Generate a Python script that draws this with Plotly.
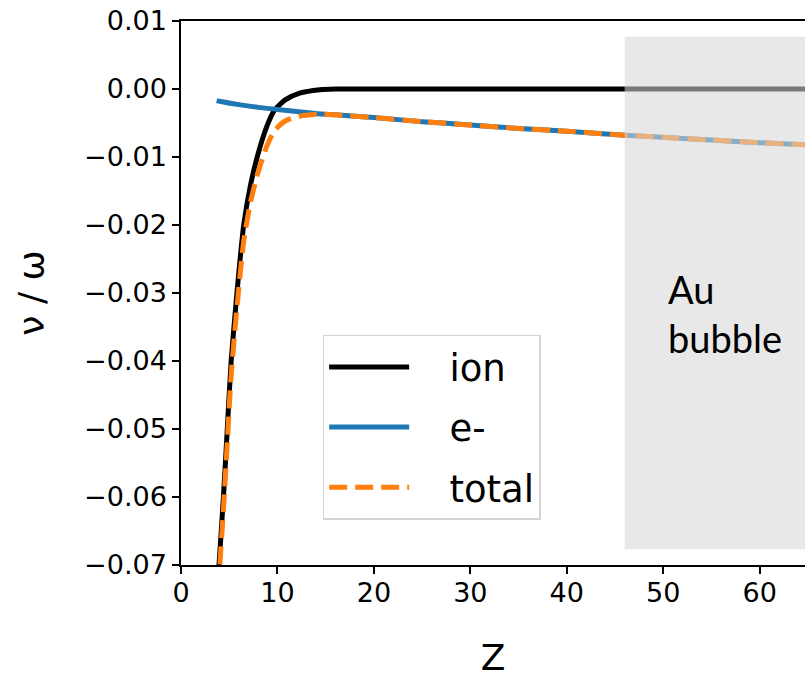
import plotly.graph_objects as go

# ---- data ----
z_ion = [3.85, 4.0, 4.4, 4.8, 5.2, 5.8, 6.5, 7.2, 7.9, 8.9, 9.7, 10.8, 12.3, 14.4, 16, 20, 30, 40, 50, 60, 66]
ion = [-0.0719, -0.0687, -0.0600, -0.0500, -0.0400, -0.0300, -0.0200, -0.0142, -0.0100, -0.0055,
       -0.0031, -0.0016, -0.0006, -0.0001, 0.0, 0.0, 0.0, 0.0, 0.0, 0.0, 0.0]

z_e = [3.7, 4.0, 6, 8, 10, 12, 14, 16, 20, 25, 30, 35, 40, 46, 50, 55, 60, 66]
e_minus = [-0.0017, -0.0018, -0.0023, -0.0027, -0.0030, -0.0033, -0.0036, -0.0038, -0.0042, -0.0048,
           -0.0053, -0.0058, -0.0062, -0.0068, -0.0071, -0.0075, -0.0079, -0.0083]

z_tot = [3.85, 4.0, 4.4, 4.8, 5.2, 5.8, 6.5, 7.2, 7.9, 8.9, 9.7, 10.8, 12.3, 14.4, 16, 20, 25, 30, 35, 40, 46, 50, 55, 60, 66]
total = [-0.0737, -0.0705, -0.0619, -0.0520, -0.0421, -0.0322, -0.0224, -0.0167, -0.0127, -0.0084,
         -0.0061, -0.0047, -0.0040, -0.0037, -0.0038, -0.0042, -0.0048, -0.0053, -0.0058, -0.0062,
         -0.0068, -0.0071, -0.0075, -0.0079, -0.0083]

x_ticks = [0, 10, 20, 30, 40, 50, 60]
y_ticks = [0.01, 0.00, -0.01, -0.02, -0.03, -0.04, -0.05, -0.06, -0.07]
y_ticktext = ["0.01", "0.00", "\u22120.01", "\u22120.02", "\u22120.03", "\u22120.04", "\u22120.05", "\u22120.06", "\u22120.07"]

series_names = ["ion", "e-", "total"]

bubble_x = [46, 70]
bubble_y = [-0.0677, 0.0077]

FONT = "DejaVu Sans"
PAD = "\u00a0\u00a0\u00a0"

fig = go.Figure()
fig.add_trace(go.Scatter(x=z_ion, y=ion, mode="lines", name=PAD + series_names[0],
                         line=dict(color="black", width=5, shape="spline", smoothing=0.6),
                         legendgroup="a"))
fig.add_trace(go.Scatter(x=z_e, y=e_minus, mode="lines", name=PAD + series_names[1],
                         line=dict(color="#1f77b4", width=5, shape="spline", smoothing=0.6),
                         legendgroup="b"))
fig.add_trace(go.Scatter(x=z_tot, y=total, mode="lines", name=PAD + series_names[2],
                         line=dict(color="#ff7f0e", width=5, dash="18px,8px", shape="spline", smoothing=0.6),
                         legendgroup="c"))

fig.add_shape(type="rect", xref="x", yref="y", x0=bubble_x[0], x1=bubble_x[1],
              y0=bubble_y[0], y1=bubble_y[1], fillcolor="rgba(214,214,214,0.57)",
              line=dict(width=0), layer="above")

fig.add_annotation(x=50.3, y=-0.0257, xref="x", yref="y", text="Au<br>bubble",
                   showarrow=False, xanchor="left", yanchor="top", align="left",
                   font=dict(family="Lato", size=38, color="black"))

fig.update_layout(
    width=805, height=678,
    margin=dict(l=181, r=0, t=21, b=113),
    plot_bgcolor="white", paper_bgcolor="white",
    font=dict(family=FONT, color="black"),
    showlegend=True,
    legend=dict(x=0.227, y=0.423, xanchor="left", yanchor="top",
                font=dict(family=FONT, size=37), bgcolor="rgba(255,255,255,0.85)",
                bordercolor="#d3d3d3", borderwidth=1.5, itemwidth=80,
                traceorder="grouped", tracegroupgap=9),
    xaxis=dict(range=[0, 64.7], tickvals=x_ticks, ticks="outside", ticklen=7, tickwidth=1.5,
               tickcolor="black", showline=True, linecolor="black", linewidth=1.5, mirror=True,
               showgrid=False, zeroline=False, tickfont=dict(size=27), ticklabelstandoff=-4,
               title=dict(text="Z", font=dict(size=36), standoff=42)),
    yaxis=dict(range=[-0.07, 0.01], tickvals=y_ticks, ticktext=y_ticktext, ticks="outside",
               ticklen=7, tickwidth=1.5, tickcolor="black", showline=True, linecolor="black",
               linewidth=1.5, showgrid=False, zeroline=False, tickfont=dict(size=27),
               title=dict(text="\u03bd / \u03c9", font=dict(size=36), standoff=28)),
)

fig.write_html("out.html")
